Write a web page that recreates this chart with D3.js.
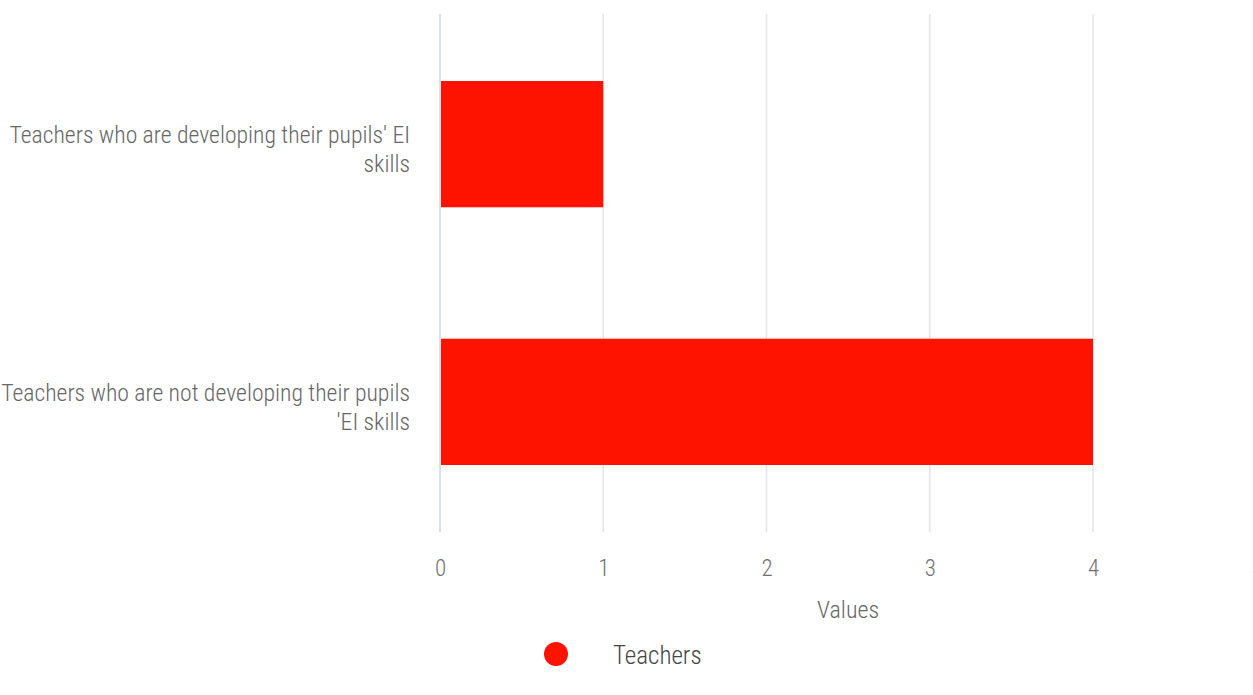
<!DOCTYPE html>
<html>
<head>
<meta charset="utf-8">
<script src="https://cdn.jsdelivr.net/npm/d3@7"></script>
<style>
  body { margin: 0; background: #fff; }
  svg text { font-family: "Roboto Condensed", "Liberation Sans Narrow", Roboto, sans-serif; font-weight: 300; }
</style>
</head>
<body>
<svg width="1253" height="695"></svg>
<script>
// dữ liệu
const categories = [
  ["Teachers who are developing their pupils' EI", "skills"],
  ["Teachers who are not developing their pupils", "'EI skills"]
];
const teachers = [1, 4];
const xTicks = [0, 1, 2, 3, 4, 5];
const seriesName = "Teachers";

const svg = d3.select("svg");
const margin = { top: 14, right: 0, bottom: 163, left: 440 };
const plotH = +svg.attr("height") - margin.top - margin.bottom;
const unit = 163.25;
const chart = svg.append("g").attr("transform", `translate(${margin.left},${margin.top})`);

const red = "#fe1300";

const x = d3.scaleLinear().domain([0, 5]).range([0, unit * 5]);
const y = d3.scaleBand()
  .domain(d3.range(categories.length))
  .range([0, plotH])
  .paddingInner(0.51)
  .paddingOuter(0.26);

// lưới dọc
chart.append("g")
  .selectAll("line")
  .data(xTicks)
  .join("line")
  .attr("x1", d => x(d)).attr("x2", d => x(d))
  .attr("y1", 0).attr("y2", plotH)
  .attr("stroke", d => d === 0 ? "#cfd5e3" : "#e2e4ea")
  .attr("stroke-width", 1.5);

// cột
chart.selectAll("rect")
  .data(teachers)
  .join("rect")
  .attr("x", x(0) + 1)
  .attr("y", (d, i) => y(i))
  .attr("width", d => x(d) - x(0) - 1)
  .attr("height", y.bandwidth())
  .attr("fill", red);

// trục x
const xAxis = chart.append("g")
  .attr("transform", `translate(0,${plotH})`)
  .call(d3.axisBottom(x).tickValues(xTicks).tickFormat(d3.format("d")).tickSize(0).tickPadding(28));
xAxis.select(".domain").remove();
xAxis.selectAll("text")
  .attr("fill", "#707070")
  .style("font-size", "23px");

// nhãn trục y
const yLab = chart.append("g")
  .selectAll("text")
  .data(categories)
  .join("text")
  .attr("x", -30)
  .attr("y", (d, i) => y(i) + y.bandwidth() / 2 - 1)
  .attr("text-anchor", "end")
  .attr("fill", "#666")
  .style("font-size", "23.7px");
yLab.selectAll("tspan")
  .data(d => d)
  .join("tspan")
  .attr("x", -30)
  .attr("dy", (d, i) => i === 0 ? 0 : 29)
  .text(d => d);

// tên trục x
svg.append("text")
  .attr("x", margin.left + x(2.5))
  .attr("y", 618)
  .attr("text-anchor", "middle")
  .attr("fill", "#666")
  .style("font-size", "24px")
  .text("Values");

// chú thích
const legend = svg.append("g").attr("transform", "translate(556,654)");
legend.append("circle").attr("r", 12).attr("fill", red);
legend.append("text")
  .attr("x", 57)
  .attr("y", 10)
  .attr("text-anchor", "start")
  .attr("fill", "#444")
  .style("font-size", "25px")
  .text(seriesName);
</script>
</body>
</html>
